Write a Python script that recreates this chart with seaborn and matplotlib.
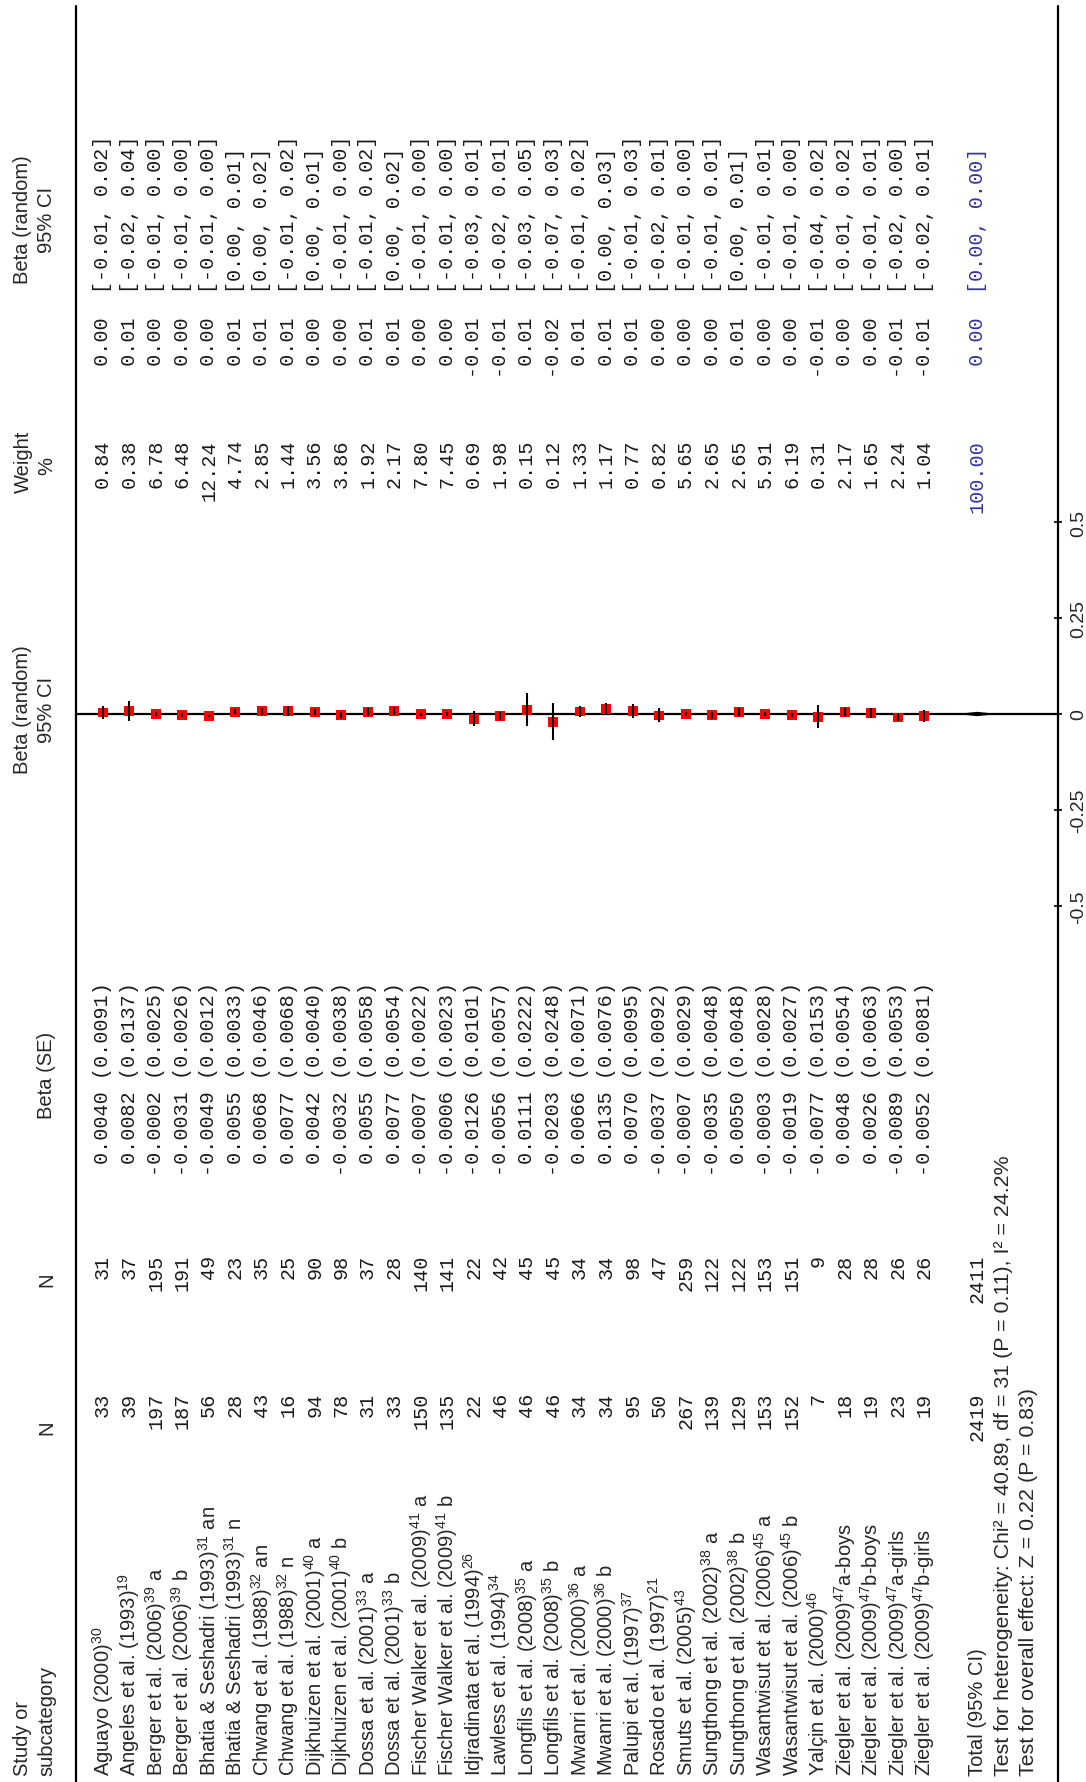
import matplotlib
matplotlib.use("Agg")
import matplotlib.pyplot as plt
import numpy as np
import pandas as pd
import seaborn as sns

studies = [
    "Aguayo (2000)$^{30}$",
    "Angeles et al. (1993)$^{19}$",
    "Berger et al. (2006)$^{39}$ a",
    "Berger et al. (2006)$^{39}$ b",
    "Bhatia & Seshadri (1993)$^{31}$ an",
    "Bhatia & Seshadri (1993)$^{31}$ n",
    "Chwang et al. (1988)$^{32}$ an",
    "Chwang et al. (1988)$^{32}$ n",
    "Dijkhuizen et al. (2001)$^{40}$ a",
    "Dijkhuizen et al. (2001)$^{40}$ b",
    "Dossa et al. (2001)$^{33}$ a",
    "Dossa et al. (2001)$^{33}$ b",
    "Fischer Walker et al. (2009)$^{41}$ a",
    "Fischer Walker et al. (2009)$^{41}$ b",
    "Idjradinata et al. (1994)$^{26}$",
    "Lawless et al. (1994)$^{34}$",
    "Longfils et al. (2008)$^{35}$ a",
    "Longfils et al. (2008)$^{35}$ b",
    "Mwanri et al. (2000)$^{36}$ a",
    "Mwanri et al. (2000)$^{36}$ b",
    "Palupi et al. (1997)$^{37}$",
    "Rosado et al. (1997)$^{21}$",
    "Smuts et al. (2005)$^{43}$",
    "Sungthong et al. (2002)$^{38}$ a",
    "Sungthong et al. (2002)$^{38}$ b",
    "Wasantwisut et al. (2006)$^{45}$ a",
    "Wasantwisut et al. (2006)$^{45}$ b",
    "Yalçin et al. (2000)$^{46}$",
    "Ziegler et al. (2009)$^{47}$a-boys",
    "Ziegler et al. (2009)$^{47}$b-boys",
    "Ziegler et al. (2009)$^{47}$a-girls",
    "Ziegler et al. (2009)$^{47}$b-girls",
]
n1 = [33, 39, 197, 187, 56, 28, 43, 16, 94, 78, 31, 33, 150, 135, 22, 46,
      46, 46, 34, 34, 95, 50, 267, 139, 129, 153, 152, 7, 18, 19, 23, 19]
n2 = [31, 37, 195, 191, 49, 23, 35, 25, 90, 98, 37, 28, 140, 141, 22, 42,
      45, 45, 34, 34, 98, 47, 259, 122, 122, 153, 151, 9, 28, 28, 26, 26]
beta = [0.0040, 0.0082, -0.0002, -0.0031, -0.0049, 0.0055, 0.0068, 0.0077,
        0.0042, -0.0032, 0.0055, 0.0077, -0.0007, -0.0006, -0.0126, -0.0056,
        0.0111, -0.0203, 0.0066, 0.0135, 0.0070, -0.0037, -0.0007, -0.0035,
        0.0050, -0.0003, -0.0019, -0.0077, 0.0048, 0.0026, -0.0089, -0.0052]
se = [0.0091, 0.0137, 0.0025, 0.0026, 0.0012, 0.0033, 0.0046, 0.0068,
      0.0040, 0.0038, 0.0058, 0.0054, 0.0022, 0.0023, 0.0101, 0.0057,
      0.0222, 0.0248, 0.0071, 0.0076, 0.0095, 0.0092, 0.0029, 0.0048,
      0.0048, 0.0028, 0.0027, 0.0153, 0.0054, 0.0063, 0.0053, 0.0081]
weight = [0.84, 0.38, 6.78, 6.48, 12.24, 4.74, 2.85, 1.44, 3.56, 3.86, 1.92,
          2.17, 7.80, 7.45, 0.69, 1.98, 0.15, 0.12, 1.33, 1.17, 0.77, 0.82,
          5.65, 2.65, 2.65, 5.91, 6.19, 0.31, 2.17, 1.65, 2.24, 1.04]
ci_lo = [-0.01, -0.02, -0.01, -0.01, -0.01, 0.00, 0.00, -0.01, 0.00, -0.01,
         -0.01, 0.00, -0.01, -0.01, -0.03, -0.02, -0.03, -0.07, -0.01, 0.00,
         -0.01, -0.02, -0.01, -0.01, 0.00, -0.01, -0.01, -0.04, -0.01, -0.01,
         -0.02, -0.02]
ci_hi = [0.02, 0.04, 0.00, 0.00, 0.00, 0.01, 0.02, 0.02, 0.01, 0.00, 0.02,
         0.02, 0.00, 0.00, 0.01, 0.01, 0.05, 0.03, 0.02, 0.03, 0.03, 0.01,
         0.00, 0.01, 0.01, 0.01, 0.00, 0.02, 0.02, 0.01, 0.00, 0.01]

total_n1 = 2419
total_n2 = 2411
total_weight = 100.00
total_est = 0.00
total_lo = 0.00
total_hi = 0.00
het_text = "Test for heterogeneity: Chi² = 40.89, df = 31 (P = 0.11), I² = 24.2%"
overall_text = "Test for overall effect: Z = 0.22 (P = 0.83)"
tick_vals = [-0.5, -0.25, 0, 0.25, 0.5]
tick_text = ["-0.5", "-0.25", "0", "0.25", "0.5"]

# layout (pixels of the 1086 x 1783 page)
W, H = 1086, 1783
ROW0, ROW_STEP = 102.7, 26.5
TOTAL_ROW, HET_ROW, OVR_ROW = 33, 34, 34.95
LEFT_LINE, RIGHT_LINE = 76, 1058
AX_TOP, AX_BOT = 523, 907

sns.set_style("white")
plt.rcParams["font.family"] = ["Liberation Sans", "DejaVu Sans"]
plt.rcParams["mathtext.fontset"] = "custom"
plt.rcParams["mathtext.rm"] = "Liberation Sans"
plt.rcParams["mathtext.default"] = "regular"

SANS = 14.5
FOOT = 15.4
MONO = dict(family=["Liberation Mono", "DejaVu Sans Mono"], size=14.5)
INK = "#1a1a1a"
BLUE = "#33339a"


def fmt2(v):
    s = f"{v:.2f}"
    return "0.00" if s == "-0.00" else s


def row_px(i):
    return ROW0 + ROW_STEP * i


fig = plt.figure(figsize=(W / 100, H / 100), dpi=100)

# table layer in page pixels
tab = fig.add_axes([0, 0, 1, 1])
tab.set_xlim(0, W)
tab.set_ylim(H, 0)
tab.axis("off")


def vtext(x, y, s, anchor, **kw):
    tab.text(x, y, s, rotation=90, rotation_mode="anchor",
             ha=anchor, va="center", **kw)


# frame lines
tab.plot([LEFT_LINE, LEFT_LINE], [7, H], color="black", lw=1.6)
tab.plot([RIGHT_LINE, RIGHT_LINE], [7, H], color="black", lw=1.6)

# headers
hx1, hx2 = 23, 47
vtext(hx1, 1776, "Study or", "left", fontsize=SANS)
vtext(hx2, 1776, "subcategory", "left", fontsize=SANS)
vtext(hx2, 1428, "N", "center", fontsize=SANS)
vtext(hx2, 1280, "N", "center", fontsize=SANS)
vtext(hx2, 1075, "Beta (SE)", "center", fontsize=SANS)
vtext(hx1, 710, "Beta (random)", "center", fontsize=SANS)
vtext(hx2, 710, "95% CI", "center", fontsize=SANS)
vtext(hx1, 462, "Weight", "center", fontsize=SANS)
vtext(hx2, 466, "%", "center", fontsize=SANS)
vtext(hx1, 220, "Beta (random)", "center", fontsize=SANS)
vtext(hx2, 220, "95% CI", "center", fontsize=SANS)

# study rows
for i, name in enumerate(studies):
    x = row_px(i)
    vtext(x, 1776, name, "left", fontsize=SANS)
    vtext(x, 1393, str(n1[i]), "right", color=INK, **MONO)
    vtext(x, 1255, str(n2[i]), "right", color=INK, **MONO)
    vtext(x, 982, f"{beta[i]:.4f} ({se[i]:.4f})", "right", color=INK, **MONO)
    vtext(x, 440, f"{weight[i]:.2f}", "right", color=INK, **MONO)
    ci = f"{fmt2(beta[i]):>5}  [{fmt2(ci_lo[i])}, {fmt2(ci_hi[i])}]"
    vtext(x, 378, ci, "left", color=INK, **MONO)

# total and tests
xt = row_px(TOTAL_ROW)
vtext(xt, 1776, "Total (95% CI)", "left", fontsize=SANS)
vtext(xt, 1393, str(total_n1), "right", color=INK, **MONO)
vtext(xt, 1255, str(total_n2), "right", color=INK, **MONO)
vtext(xt, 440, f"{total_weight:.2f}", "right", color=BLUE, **MONO)
vtext(xt, 378, f"{fmt2(total_est):>5}  [{fmt2(total_lo)}, {fmt2(total_hi)}]",
      "left", color=BLUE, **MONO)
vtext(row_px(HET_ROW), 1776, het_text, "left", fontsize=FOOT)
vtext(row_px(OVR_ROW), 1776, overall_text, "left", fontsize=FOOT)

# forest panel: x = row index, y = beta
ax = fig.add_axes([0, (H - AX_BOT) / H, RIGHT_LINE / W, (AX_BOT - AX_TOP) / H])
ax.patch.set_alpha(0)
ax.set_xlim((0 - ROW0) / ROW_STEP, (RIGHT_LINE - ROW0) / ROW_STEP)
ax.set_ylim(-0.5, 0.5)

df = pd.DataFrame({"row": np.arange(len(studies)), "beta": beta, "se": se})
df["lo"] = df["beta"] - 1.96 * df["se"]
df["hi"] = df["beta"] + 1.96 * df["se"]

ax.axhline(0, xmin=LEFT_LINE / RIGHT_LINE, xmax=1, color="black", lw=1.6, zorder=1)
sns.scatterplot(data=df, x="row", y="beta", ax=ax, marker="s", s=50,
                color="#ff0000", edgecolor="none", zorder=2, legend=False)
ax.vlines(df["row"], df["lo"], df["hi"], color="black", lw=1.5, zorder=3)
ax.fill([TOTAL_ROW - 0.4, TOTAL_ROW, TOTAL_ROW + 0.4, TOTAL_ROW],
        [total_est, total_hi + 0.003, total_est, total_lo - 0.003],
        facecolor="black", edgecolor="black", lw=1.5, zorder=3)

for s in ["top", "left", "bottom", "right"]:
    ax.spines[s].set_visible(False)
ax.set_xticks([])
ax.set_xlabel("")
ax.set_ylabel("")
ax.yaxis.tick_right()
ax.set_yticks(tick_vals)
ax.set_yticklabels(tick_text, rotation=90, va="center", ha="left", fontsize=14)
ax.tick_params(axis="y", direction="inout", length=6, width=1.2, pad=6, color="black")

fig.savefig("out.png", dpi=100)
